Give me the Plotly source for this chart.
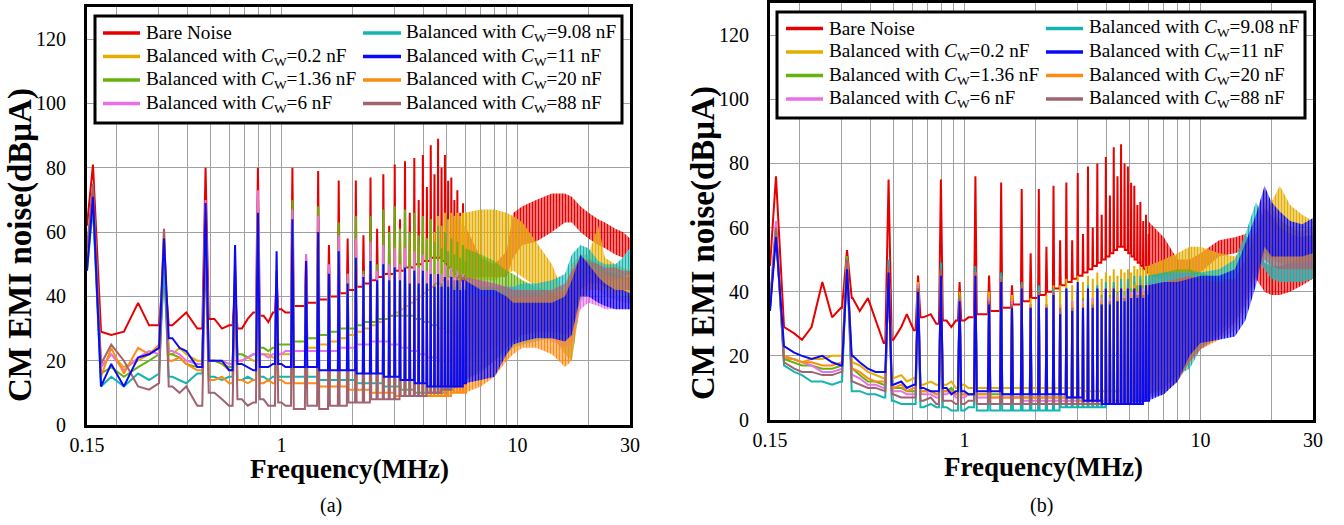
import plotly.graph_objects as go

FONT = "Liberation Serif"
W, H = 1344, 525

# ---------------------------------------------------------------- series
NAMES = [
    "Bare Noise",
    "Balanced with <i>C</i><sub>W</sub>=0.2 nF",
    "Balanced with <i>C</i><sub>W</sub>=1.36 nF",
    "Balanced with <i>C</i><sub>W</sub>=6 nF",
    "Balanced with <i>C</i><sub>W</sub>=9.08 nF",
    "Balanced with <i>C</i><sub>W</sub>=11 nF",
    "Balanced with <i>C</i><sub>W</sub>=20 nF",
    "Balanced with <i>C</i><sub>W</sub>=88 nF",
]
KEYS = ["red", "gold", "green", "pink", "teal", "blue", "orange", "brown"]
COLORS = {
    "red": "#e60000", "gold": "#e6ac00", "green": "#66b30d", "pink": "#e870e8",
    "teal": "#14b4b0", "blue": "#0a0af5", "orange": "#ff8a14", "brown": "#a0636f",
}

# switching harmonics (MHz) drawn as individual spikes
HARMONIC_F = [0.159, 0.318, 0.477, 0.636, 0.795, 0.954, 1.113, 1.272, 1.431, 1.590,
              1.749, 1.908, 2.067, 2.226, 2.385, 2.544, 2.703, 2.862, 3.021, 3.180,
              3.339, 3.498, 3.657, 3.816, 3.975, 4.134, 4.293, 4.452, 4.611, 4.770,
              4.929, 5.088, 5.247, 5.406, 5.565, 5.724, 5.883, 6.042]

# noise-floor sample frequencies between the higher harmonics (MHz)
GAP_F = [2.78, 2.94, 3.10, 3.26, 3.42, 3.58, 3.74, 3.90, 4.05, 4.21, 4.37,
         4.53, 4.69, 4.85, 5.01, 5.17, 5.33, 5.49, 5.64, 5.80, 5.96, 6.12]

# ================================================================ panel (a)
A_FLOOR_F = [0.172, 0.19, 0.215, 0.247, 0.275, 0.30, 0.345, 0.37, 0.395, 0.44,
             0.52, 0.56, 0.60, 0.68, 0.72, 0.76, 0.84, 0.88, 0.92, 1.00, 1.04,
             1.19, 1.35, 1.51, 1.67, 1.83, 1.99, 2.15, 2.30, 2.46, 2.62] + GAP_F
A_BAND_F = [6.0, 7.0, 8.0, 9.0, 9.6, 10.5, 12, 14, 15.9, 17, 18.5, 20, 22, 23.5, 26, 28, 30]

a_start = {"red": 62, "gold": 52, "green": 50, "pink": 52, "teal": 48,
           "blue": 48, "orange": 50, "brown": 55}

a_red_peaks = [81, 50, 80, 42, 80, 45, 80, 53, 79, 56, 76, 58, 76, 59, 77, 61,
               78, 62, 81, 64, 82, 66, 83, 70, 84, 74, 87, 78, 89, 80, 84, 76, 77, 70, 73, 66, 69, 62]
a_gold_peaks = [72, 55, 68, 48, 70, 48, 64, 48, 60, 46, 57, 45, 56, 46, 56, 48,
                55, 50, 57, 52, 58, 54, 60, 56, 62, 58, 64, 60, 65, 62, 66, 64, 66, 65, 66, 65, 66, 66]
a_green_peaks = [69, 48, 67, 45, 70, 45, 70, 48, 68, 48, 63, 47, 65, 48, 65, 50,
                 67, 60, 68, 61, 67, 60, 66, 59, 65, 58, 64, 57, 62, 55, 60, 54, 58, 53, 57, 52, 56, 51]
a_pink_peaks = [70, 52, 70, 45, 73, 46, 67, 53, 65, 50, 59, 47, 58, 47, 57, 48,
                56, 50, 55, 50, 55, 49, 54, 49, 53, 48, 52, 47, 51, 47, 50, 46, 49, 46, 48, 45, 47, 45]
a_teal_peaks = [68, 50, 66, 48, 62, 47, 60, 46, 57, 45, 54, 44, 52, 44, 51, 44,
                50, 44, 49, 44, 48, 43, 47, 43, 46, 43, 46, 43, 45, 43, 45, 43, 44, 43, 44, 43, 44, 43]
a_blue_peaks = [71, 58, 69, 56, 66, 54, 64, 51, 60, 47, 54, 44, 52, 46, 51, 45,
                50, 45, 49, 45, 49, 44, 48, 44, 48, 44, 47, 43, 47, 43, 46, 43, 46, 42, 45, 42, 45, 42]
a_orange_peaks = [72, 61, 65, 50, 62, 48, 58, 46, 55, 44, 52, 43, 50, 42, 49, 42,
                  48, 42, 47, 42, 46, 41, 45, 41, 45, 41, 44, 40, 43, 40, 43, 40, 42, 40, 42, 40, 42, 40]
a_brown_peaks = [75, 61, 57, 45, 55, 43, 55, 42, 52, 41, 50, 40, 48, 40, 47, 40,
                 46, 40, 46, 41, 46, 42, 46, 43, 46, 44, 46, 44, 46, 44, 46, 45, 46, 45, 46, 45, 46, 45]

a_red_floor = [29, 28, 29, 38, 31, 31, 31, 33, 35, 30, 33, 30, 31, 30, 33, 35,
               34, 32, 35, 36, 35, 37, 38, 39, 40, 41, 42, 43, 44, 45, 46,
               47, 47, 48, 48, 49, 49, 50, 50, 51, 51, 52, 52, 52, 51, 50, 49, 48, 47, 46, 45, 45, 44]
a_gold_floor = [18, 22, 18, 20, 22, 24, 22, 24, 22, 20, 20, 19, 17, 20, 21, 20,
                22, 22, 21, 22, 22, 23, 24, 25, 26, 27, 28, 29, 30, 31, 32,
                33, 34, 35, 36, 37, 38, 39, 40, 41, 42, 43, 44, 44, 45, 45, 46, 46, 46, 47, 47, 47, 47]
a_green_floor = [16, 18, 15, 18, 20, 22, 22, 21, 19, 18, 20, 19, 18, 22, 21, 22,
                 24, 23, 24, 25, 25, 26, 27, 28, 29, 30, 30, 31, 32, 32, 33,
                 33, 34, 34, 34, 34, 34, 33, 33, 32, 32, 31, 31, 30, 30, 29, 29, 28, 28, 27, 27, 26, 26]
a_pink_floor = [18, 22, 17, 21, 23, 22, 23, 22, 20, 19, 20, 20, 19, 20, 21, 22,
                22, 21, 22, 22, 23, 23, 23, 23, 23, 24, 24, 25, 25, 26, 26,
                26, 25, 25, 24, 24, 23, 23, 22, 22, 21, 21, 21, 20, 20, 20, 20, 20, 20, 20, 20, 20, 20]
a_teal_floor = [12, 15, 12, 16, 14, 16, 15, 14, 13, 16, 15, 14, 15, 14, 15, 14,
                15, 14, 15, 15, 15, 15, 15, 14, 14, 14, 14, 13, 13, 13, 13,
                12, 12, 12, 11, 11, 11, 10, 10, 10, 10, 10, 10, 10, 10, 10, 11, 11, 12, 12, 13, 13, 14]
a_blue_floor = [12, 19, 12, 21, 22, 24, 27, 24, 23, 18, 20, 20, 17, 19, 18, 17,
                18, 18, 19, 19, 18, 18, 18, 17, 17, 17, 17, 16, 16, 16, 16,
                15, 15, 15, 14, 14, 14, 13, 13, 13, 12, 12, 12, 12, 12, 12, 12, 12, 12, 12, 12, 13, 13]
a_orange_floor = [15, 24, 16, 24, 22, 25, 20, 21, 19, 17, 14, 15, 13, 14, 13, 14,
                  13, 14, 13, 14, 13, 13, 13, 12, 12, 12, 11, 11, 11, 10, 10,
                  10, 10, 9, 9, 9, 9, 9, 9, 9, 9, 9, 9, 9, 9, 9, 9, 10, 10, 10, 10, 10, 10]
a_brown_floor = [19, 25, 20, 12, 11, 13, 12, 10, 12, 6, 10, 8, 6, 8, 6, 7,
                 8, 6, 6, 7, 6, 5, 6, 5, 6, 6, 7, 7, 7, 8, 8,
                 8, 8, 8, 9, 9, 9, 9, 9, 9, 10, 10, 10, 10, 11, 11, 11, 12, 12, 13, 13, 14, 14]

a_red_top = [62, 52, 50, 54, 66, 68, 70, 72, 72, 71, 68, 66, 64, 63, 61, 60, 58]
a_red_bottom = [45, 46, 46, 46, 52, 56, 57, 60, 63, 63, 60, 58, 56, 55, 53, 52, 55]
a_gold_top = [66, 67, 67, 66, 65, 63, 57, 50, 40, 50, 53, 53, 62, 52, 50, 49, 48]
a_gold_bottom = [45, 45, 45, 47, 48, 46, 43, 40, 36, 25, 46, 48, 50, 47, 46, 45, 45]
a_green_top = [55, 53, 51, 48, 47, 45, 43, 41, 38, 42, 48, 52, 50, 48, 47, 46, 46]
a_green_bottom = [26, 24, 25, 27, 28, 30, 30, 28, 22, 20, 38, 42, 42, 40, 39, 38, 38]
a_pink_top = [46, 45, 44, 43, 43, 42, 41, 40, 38, 42, 47, 46, 44, 42, 41, 40, 40]
a_pink_bottom = [20, 22, 24, 26, 27, 28, 28, 26, 24, 25, 36, 38, 37, 36, 36, 36, 36]
a_teal_top = [44, 43, 43, 43, 43, 44, 44, 45, 47, 53, 56, 55, 51, 50, 50, 52, 55]
a_teal_bottom = [14, 16, 20, 22, 24, 25, 26, 27, 26, 30, 44, 47, 46, 45, 45, 46, 47]
a_blue_top = [45, 42, 42, 40, 38, 38, 38, 38, 40, 45, 53, 50, 46, 44, 42, 42, 41]
a_blue_bottom = [13, 14, 15, 22, 25, 26, 27, 27, 26, 28, 40, 40, 38, 37, 36, 36, 36]
a_orange_top = [42, 40, 40, 40, 40, 40, 40, 41, 42, 48, 52, 50, 48, 47, 46, 46, 46]
a_orange_bottom = [10, 12, 15, 20, 22, 24, 24, 22, 18, 20, 40, 42, 42, 42, 41, 41, 41]
a_brown_top = [46, 45, 44, 43, 42, 42, 42, 42, 44, 48, 52, 51, 50, 49, 49, 48, 48]
a_brown_bottom = [14, 17, 20, 24, 26, 28, 29, 29, 28, 30, 42, 44, 44, 43, 42, 42, 42]

# ================================================================ panel (b)
B_FLOOR_F = [0.172, 0.19, 0.205, 0.225, 0.25, 0.275, 0.30, 0.336, 0.36, 0.39,
             0.42, 0.455, 0.50, 0.54, 0.57, 0.61, 0.67, 0.72, 0.76, 0.84, 0.88,
             0.92, 1.00, 1.04, 1.19, 1.35, 1.51, 1.67, 1.83, 1.99, 2.15, 2.30,
             2.46, 2.62] + GAP_F
B_BAND_F = [6.0, 7.0, 8.0, 9.0, 10, 12, 14, 15.5, 17.2, 18.7, 20, 21.7, 24, 27, 30]

b_start = {"red": 48, "gold": 36, "green": 35, "pink": 36, "teal": 35,
           "blue": 34, "orange": 35, "brown": 35}

b_red_peaks = [76, 53, 75, 45, 75, 43, 76, 45, 74, 42, 72, 52, 72, 54, 73, 56,
               74, 56, 77, 58, 79, 60, 80, 64, 82, 70, 85, 76, 86, 80, 79, 74, 73, 67, 68, 62, 64, 58]
b_gold_peaks = [60, 51, 48, 43, 47, 40, 46, 40, 45, 39, 42, 38, 41, 39, 42, 42,
                44, 42, 45, 43, 45, 44, 46, 44, 46, 45, 47, 45, 47, 46, 47, 46, 48, 47, 48, 47, 48, 48]
b_green_peaks = [59, 51, 48, 42, 47, 39, 46, 38, 45, 37, 42, 36, 41, 36, 40, 36,
                 40, 37, 40, 38, 41, 38, 41, 39, 41, 39, 42, 40, 42, 40, 43, 41, 43, 42, 44, 42, 44, 43]
b_pink_peaks = [62, 50, 48, 42, 47, 38, 46, 38, 45, 37, 42, 36, 41, 36, 40, 36,
                40, 37, 40, 37, 40, 38, 40, 38, 41, 38, 41, 39, 41, 39, 42, 40, 42, 40, 43, 41, 43, 41]
b_teal_peaks = [60, 50, 50, 41, 49, 38, 48, 37, 46, 36, 43, 35, 42, 35, 41, 34,
                41, 35, 41, 36, 42, 36, 42, 37, 43, 37, 43, 38, 44, 38, 44, 39, 45, 39, 45, 40, 45, 40]
b_blue_peaks = [57, 47, 46, 40, 45, 37, 45, 36, 43, 35, 41, 35, 39, 35, 39, 33,
                41, 34, 43, 35, 41, 35, 41, 36, 41, 36, 41, 37, 41, 37, 41, 38, 41, 38, 42, 38, 42, 39]
b_orange_peaks = [59, 50, 47, 41, 46, 38, 46, 37, 44, 36, 42, 36, 40, 36, 40, 36,
                  40, 36, 40, 36, 40, 37, 40, 37, 41, 37, 41, 38, 41, 38, 41, 39, 42, 39, 42, 40, 42, 40]
b_brown_peaks = [60, 50, 48, 41, 47, 38, 46, 37, 44, 36, 42, 35, 40, 35, 40, 35,
                 40, 35, 40, 35, 40, 36, 40, 36, 40, 37, 40, 37, 41, 38, 41, 38, 41, 39, 41, 39, 42, 40]

b_red_floor = [29, 27, 25, 29, 43, 32, 35, 38, 34, 38, 31, 24, 25, 29, 33, 28, 32,
               33, 30, 31, 29, 31, 31, 32, 33, 34, 35, 36, 37, 38, 39, 40, 41, 42,
               43, 44, 45, 46, 47, 48, 49, 50, 51, 52, 53, 54, 54, 53, 52, 51, 50, 49, 48, 47, 46, 45]
b_gold_floor = [19, 19, 18, 19, 19, 20, 20, 18, 17, 15, 14, 13, 13, 14, 12, 13, 11,
                12, 11, 11, 12, 10, 11, 10, 10, 10, 10, 10, 10, 10, 10, 10, 10, 10,
                10, 10, 10, 9, 9, 9, 9, 9, 9, 9, 9, 9, 9, 9, 9, 9, 10, 10, 10, 10, 11, 11]
b_green_floor = [19, 18, 17, 17, 16, 16, 17, 16, 14, 12, 12, 11, 10, 10, 9, 9, 9,
                 9, 8, 9, 10, 8, 8, 8, 8, 8, 8, 7, 7, 7, 7, 7, 7, 7,
                 7, 7, 6, 6, 6, 6, 6, 5, 5, 5, 5, 5, 5, 5, 5, 6, 6, 6, 6, 7, 7, 7]
b_pink_floor = [20, 19, 18, 17, 15, 15, 16, 14, 13, 11, 11, 10, 9, 9, 8, 8, 8,
                8, 7, 8, 9, 7, 7, 8, 7, 7, 7, 7, 6, 6, 6, 6, 6, 6,
                6, 6, 6, 6, 6, 6, 5, 5, 5, 5, 5, 5, 6, 6, 6, 6, 7, 7, 7, 7, 8, 8]
b_teal_floor = [17, 15, 14, 12, 12, 11, 12, 9, 9, 8, 8, 7, 6, 5, 5, 5, 4,
                5, 4, 4, 3, 3, 3, 4, 3, 3, 3, 3, 3, 3, 3, 3, 3, 4,
                4, 4, 4, 4, 4, 4, 4, 4, 5, 5, 5, 5, 5, 5, 5, 6, 6, 6, 6, 6, 7, 7]
b_blue_floor = [23, 21, 20, 19, 20, 18, 17, 20, 18, 16, 15, 15, 11, 12, 10, 11, 10,
                9, 9, 10, 8, 9, 9, 8, 9, 9, 8, 8, 8, 8, 8, 8, 8, 8,
                7, 7, 7, 6, 6, 6, 6, 5, 5, 5, 5, 5, 5, 5, 5, 5, 5, 5, 5, 6, 6, 6]
b_orange_floor = [20, 19, 18, 18, 17, 17, 18, 16, 15, 13, 12, 12, 10, 11, 9, 10, 9,
                  9, 8, 9, 9, 8, 8, 8, 8, 7, 7, 7, 7, 7, 7, 7, 7, 7,
                  7, 7, 6, 6, 6, 6, 6, 6, 6, 6, 6, 6, 6, 6, 6, 6, 7, 7, 7, 7, 8, 8]
b_brown_floor = [18, 16, 15, 15, 14, 14, 15, 12, 11, 10, 10, 9, 8, 7, 7, 7, 6,
                 7, 5, 6, 6, 5, 5, 6, 5, 5, 5, 5, 5, 5, 5, 5, 5, 5,
                 5, 5, 5, 5, 5, 5, 5, 5, 5, 5, 5, 5, 5, 5, 5, 6, 6, 6, 6, 7, 7, 7]

b_red_top = [62, 57, 50, 50, 52, 56, 57, 58, 52, 49, 48, 48, 49, 51, 52]
b_red_bottom = [45, 44, 43, 44, 46, 51, 52, 53, 44, 40, 39, 39, 40, 42, 44]
b_gold_top = [48, 50, 52, 54, 54, 52, 51, 54, 60, 64, 68, 73, 67, 64, 62]
b_gold_bottom = [11, 14, 20, 28, 36, 40, 40, 42, 48, 54, 56, 58, 58, 58, 58]
b_green_top = [45, 46, 47, 47, 46, 44, 44, 50, 60, 66, 64, 62, 60, 58, 57]
b_green_bottom = [8, 10, 14, 20, 26, 30, 34, 40, 48, 52, 52, 52, 52, 52, 52]
b_pink_top = [44, 45, 46, 46, 43, 40, 39, 48, 60, 68, 62, 58, 57, 56, 56]
b_pink_bottom = [9, 11, 14, 18, 24, 28, 31, 38, 48, 52, 50, 49, 48, 48, 48]
b_teal_top = [45, 46, 46, 46, 46, 47, 50, 58, 68, 62, 56, 53, 52, 52, 54]
b_teal_bottom = [8, 10, 14, 16, 22, 28, 33, 40, 50, 47, 44, 43, 43, 43, 44]
b_blue_top = [42, 43, 43, 44, 45, 45, 47, 55, 64, 73, 68, 65, 62, 61, 63]
b_blue_bottom = [6, 8, 12, 20, 24, 25, 26, 31, 42, 54, 51, 51, 51, 51, 52]
b_orange_top = [42, 43, 44, 45, 44, 43, 44, 52, 62, 72, 66, 63, 60, 59, 60]
b_orange_bottom = [8, 9, 12, 18, 22, 25, 28, 34, 44, 52, 50, 49, 49, 49, 50]
b_brown_top = [42, 43, 44, 45, 44, 43, 44, 50, 58, 66, 64, 60, 58, 57, 58]
b_brown_bottom = [7, 8, 12, 18, 22, 26, 30, 36, 46, 50, 48, 47, 47, 47, 47]

SERIES_VALUES = globals()
PANELS = {
    "a": dict(start=a_start, floor_f=A_FLOOR_F, band_f=A_BAND_F, prefix="a_", xa="x", ya="y"),
    "b": dict(start=b_start, floor_f=B_FLOOR_F, band_f=B_BAND_F, prefix="b_", xa="x2", ya="y2"),
}

# ---------------------------------------------------------------- geometry (px)
PLOT_A = dict(x0=87, x1=630, y0=7, y1=425)
PLOT_B = dict(x0=770, x1=1313, y0=3, y1=420)
SPIKE_HW = 0.015         # half-width of a harmonic spike at its base, MHz
LINE_W = 2
DRAW_ORDER = ["red", "gold", "green", "pink", "teal", "orange", "brown", "blue"]


def px(x):
    return x / W


def py(y):
    return 1 - y / H


def spike_line(start, peaks, floor_f, floor_v):
    """Floor samples plus a narrow triangle at every harmonic."""
    pts = [(0.15, start)] + list(zip(floor_f, floor_v))
    for i, (f, p) in enumerate(zip(HARMONIC_F, peaks)):
        pts.append((f, p))
        if i == 0:
            continue
        left = [v for ff, v in zip(floor_f, floor_v) if ff < f][-1]
        right = [v for ff, v in zip(floor_f, floor_v) if ff > f][0]
        pts.append((f - SPIKE_HW, left))
        pts.append((f + SPIKE_HW, right))
    pts.sort()
    return [p[0] for p in pts], [p[1] for p in pts]


fig = go.Figure()

for panel, d in PANELS.items():
    pre = d["prefix"]
    for key in DRAW_ORDER:
        col = COLORS[key]
        xs, ys = spike_line(d["start"][key], SERIES_VALUES[f"{pre}{key}_peaks"],
                            d["floor_f"], SERIES_VALUES[f"{pre}{key}_floor"])
        fig.add_trace(go.Scatter(x=xs, y=ys, mode="lines",
                                 line=dict(color=col, width=LINE_W),
                                 hoverinfo="skip", showlegend=False,
                                 xaxis=d["xa"], yaxis=d["ya"]))
        # dense high-frequency part: spectrum envelope filled with fine vertical hatching
        top = SERIES_VALUES[f"{pre}{key}_top"]
        bot = SERIES_VALUES[f"{pre}{key}_bottom"]
        bf = d["band_f"]
        fig.add_trace(go.Scatter(
            x=list(bf) + list(bf)[::-1], y=list(top) + list(bot)[::-1],
            mode="none", fill="toself", fillcolor="rgba(0,0,0,0)",
            fillpattern=dict(shape="|", size=3, solidity=0.7,
                             fgcolor=col, bgcolor="rgba(0,0,0,0)"),
            hoverinfo="skip", showlegend=False, xaxis=d["xa"], yaxis=d["ya"]))

# ---------------------------------------------------------------- axes
MINOR = [0.2, 0.3, 0.4, 0.5, 0.6, 0.7, 0.8, 0.9, 2, 3, 4, 5, 6, 7, 8, 9, 20]
GRID = "#a0a0a0"
TICKFONT = dict(family=FONT, size=20, color="black")


def xaxis(dom, anchor):
    return dict(domain=dom, anchor=anchor, type="log", range=[-0.8239, 1.4771],
                tickmode="array", tickvals=[0.15, 1, 10, 30],
                ticktext=["0.15", "1", "10", "30"],
                showgrid=True, gridcolor=GRID, gridwidth=1,
                minor=dict(tickvals=MINOR, showgrid=True, gridcolor=GRID, gridwidth=1),
                showline=True, linecolor="black", linewidth=3, mirror=True,
                ticks="", zeroline=False, automargin=False, tickfont=TICKFONT)


def yaxis(dom, anchor):
    return dict(domain=dom, anchor=anchor, range=[0, 130],
                tickmode="array", tickvals=[0, 20, 40, 60, 80, 100, 120],
                showgrid=True, gridcolor=GRID, gridwidth=1,
                showline=True, linecolor="black", linewidth=3, mirror=True,
                ticks="", zeroline=False, ticklabelstandoff=14, automargin=False,
                tickfont=TICKFONT)


fig.update_layout(
    template="none",
    width=W, height=H, margin=dict(l=0, r=0, t=0, b=0, pad=0),
    font=dict(family=FONT, size=20, color="black"),
    paper_bgcolor="white", plot_bgcolor="white", showlegend=False,
    xaxis=xaxis([px(PLOT_A["x0"]), px(PLOT_A["x1"])], "y"),
    yaxis=yaxis([py(PLOT_A["y1"]), py(PLOT_A["y0"])], "x"),
    xaxis2=xaxis([px(PLOT_B["x0"]), px(PLOT_B["x1"])], "y2"),
    yaxis2=yaxis([py(PLOT_B["y1"]), py(PLOT_B["y0"])], "x2"),
)

# ---------------------------------------------------------------- legends
shapes, annotations = [], []
LEGENDS = {
    "a": dict(box=(95, 16, 622, 123), cols=((103, 140, 144), (363, 401, 404)),
              rows=(33, 56.5, 80, 103.5)),
    "b": dict(box=(777, 12, 1305, 118), cols=((786, 823, 827), (1046, 1083, 1087)),
              rows=(28.5, 52, 75.5, 99)),
}
for panel, lg in LEGENDS.items():
    x0, y0, x1, y1 = lg["box"]
    shapes.append(dict(type="rect", xref="paper", yref="paper",
                       x0=px(x0), x1=px(x1), y0=py(y1), y1=py(y0),
                       line=dict(color="black", width=3), fillcolor="white",
                       layer="above"))
    for i, (key, name) in enumerate(zip(KEYS, NAMES)):
        c = lg["cols"][i // 4]
        r = lg["rows"][i % 4]
        shapes.append(dict(type="line", xref="paper", yref="paper",
                           x0=px(c[0]), x1=px(c[1]), y0=py(r), y1=py(r),
                           line=dict(color=COLORS[key], width=3.5), layer="above"))
        annotations.append(dict(text=name, xref="paper", yref="paper",
                                x=px(c[2]), y=py(r), xanchor="left", yanchor="middle",
                                showarrow=False,
                                font=dict(family=FONT, size=19.2, color="black")))

# axis titles and captions
for xc, yc in ((349, 469), (1043, 467)):
    annotations.append(dict(text="<b>Frequency(MHz)</b>", xref="paper", yref="paper",
                            x=px(xc), y=py(yc), xanchor="center", yanchor="middle",
                            showarrow=False, font=dict(family=FONT, size=27, color="black")))
for xc, yc in ((20, 245), (703, 243)):
    annotations.append(dict(text="<b>CM EMI noise(dBμA)</b>", xref="paper", yref="paper",
                            x=px(xc), y=py(yc), xanchor="center", yanchor="middle",
                            textangle=-90, showarrow=False,
                            font=dict(family=FONT, size=33, color="black")))
for xc, yc, txt in ((331, 505, "(a)"), (1041, 505, "(b)")):
    annotations.append(dict(text=txt, xref="paper", yref="paper",
                            x=px(xc), y=py(yc), xanchor="center", yanchor="middle",
                            showarrow=False, font=dict(family=FONT, size=20, color="black")))

fig.update_layout(shapes=shapes, annotations=annotations)
fig.write_html("out.html")
